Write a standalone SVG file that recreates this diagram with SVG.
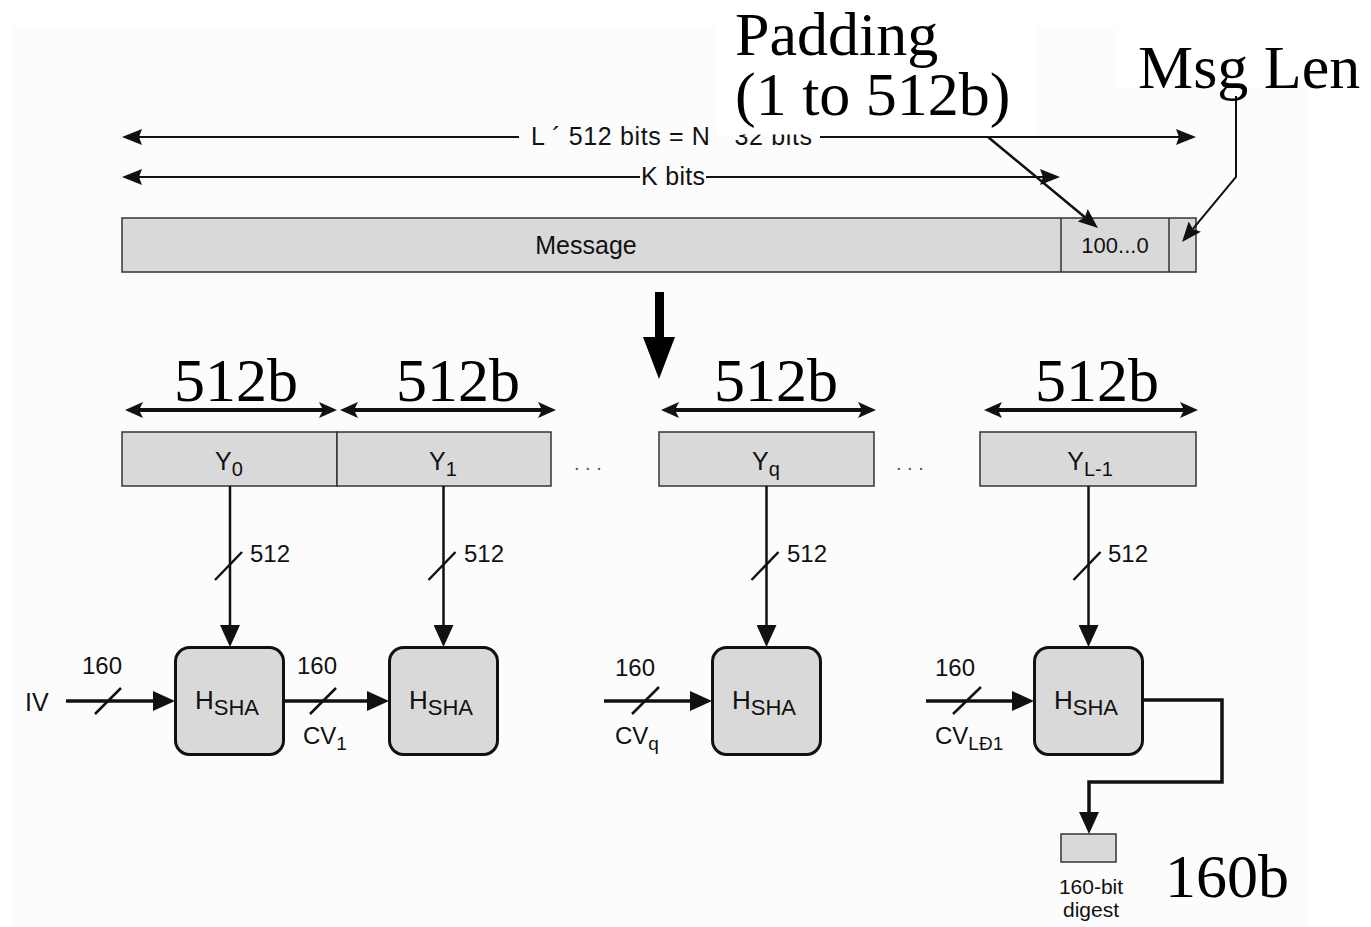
<svg xmlns="http://www.w3.org/2000/svg" width="1371" height="927" viewBox="0 0 1371 927">
<defs>
<style>
.t{font-family:"Liberation Sans",Arial,sans-serif;fill:#111}
.big{font-family:"Liberation Serif","Times New Roman",serif;fill:#000;font-size:62px}
.blk{fill:#d9d9d9;stroke:#333;stroke-width:1.5}
.hb{fill:#d9d9d9;stroke:#111;stroke-width:3}
.ln{fill:none;stroke:#111}
.wh{fill:#fff}
</style>
<marker id="ah" viewBox="0 0 22 20" refX="2" refY="10" markerWidth="22" markerHeight="20" markerUnits="userSpaceOnUse" orient="auto-start-reverse">
<path d="M0,0 L22,10 L0,20 z" fill="#111"/>
</marker>
<marker id="am" viewBox="0 0 18 16" refX="4" refY="8" markerWidth="18" markerHeight="16" markerUnits="userSpaceOnUse" orient="auto-start-reverse">
<path d="M0,0 L18,8 L0,16 L4,8 z" fill="#111"/>
</marker>
<marker id="ahs" viewBox="0 0 20 16" refX="3" refY="8" markerWidth="20" markerHeight="16" markerUnits="userSpaceOnUse" orient="auto-start-reverse">
<path d="M0,0 L20,8 L0,16 L3,8 z" fill="#111"/>
</marker>
</defs>
<rect x="0" y="0" width="1371" height="927" fill="#fff"/>
<rect x="13" y="27" width="1295" height="900" fill="#fcfcfc"/>

<g id="lengths">
<text class="t" x="531" y="145" font-size="25" textLength="281" lengthAdjust="spacing">L ´ 512 bits = N ´ 32 bits</text>
<text class="t" x="641" y="185" font-size="25" textLength="64" lengthAdjust="spacing">K bits</text>
</g>

<g id="message">
<rect class="blk" x="122" y="218" width="1074" height="54"/>
<line x1="1061" y1="218" x2="1061" y2="272" stroke="#333" stroke-width="1.5"/>
<line x1="1169" y1="218" x2="1169" y2="272" stroke="#333" stroke-width="1.5"/>
<text class="t" x="586" y="254" font-size="25" text-anchor="middle">Message</text>
<text class="t" x="1115" y="253" font-size="22" text-anchor="middle">100...0</text>
</g>

<g id="size-labels">
<text class="big" x="236" y="401" text-anchor="middle">512b</text>
<text class="big" x="458" y="401" text-anchor="middle">512b</text>
<text class="big" x="776" y="401" text-anchor="middle">512b</text>
<text class="big" x="1097" y="401" text-anchor="middle">512b</text>
</g>

<g id="Y0">
<rect class="blk" x="122" y="432" width="215" height="54"/>
<text class="t" x="229" y="470" font-size="25" text-anchor="middle">Y<tspan font-size="20" dy="6">0</tspan></text>
</g>
<g id="Y1">
<rect class="blk" x="337" y="432" width="214" height="54"/>
<text class="t" x="443" y="470" font-size="25" text-anchor="middle">Y<tspan font-size="20" dy="6">1</tspan></text>
</g>
<g id="dots1"><text class="t" x="574" y="470" font-size="20" style="fill:#555">. . .</text></g>
<g id="Yq">
<rect class="blk" x="659" y="432" width="215" height="54"/>
<text class="t" x="766" y="470" font-size="25" text-anchor="middle">Y<tspan font-size="20" dy="6">q</tspan></text>
</g>
<g id="dots2"><text class="t" x="896" y="470" font-size="20" style="fill:#555">. . .</text></g>
<g id="YL-1">
<rect class="blk" x="980" y="432" width="216" height="54"/>
<text class="t" x="1090" y="470" font-size="25" text-anchor="middle">Y<tspan font-size="20" dy="6">L-1</tspan></text>
</g>

<g id="bit-labels">
<text class="t" x="250" y="562" font-size="24">512</text>
<text class="t" x="464" y="562" font-size="24">512</text>
<text class="t" x="787" y="562" font-size="24">512</text>
<text class="t" x="1108" y="562" font-size="24">512</text>
<text class="t" x="82" y="674" font-size="24">160</text>
<text class="t" x="297" y="674" font-size="24">160</text>
<text class="t" x="615" y="676" font-size="24">160</text>
<text class="t" x="935" y="676" font-size="24">160</text>
<text class="t" x="25" y="711" font-size="25">IV</text>
<text class="t" x="303" y="744" font-size="24">CV<tspan font-size="19" dy="6">1</tspan></text>
<text class="t" x="615" y="744" font-size="24">CV<tspan font-size="19" dy="6">q</tspan></text>
<text class="t" x="935" y="744" font-size="24">CV<tspan font-size="19" dy="6">LĐ1</tspan></text>
</g>

<g id="H1">
<rect class="hb" x="175.5" y="647.5" width="108" height="107" rx="14"/>
<text class="t" x="227" y="709" font-size="26" text-anchor="middle">H<tspan font-size="22" dy="6">SHA</tspan></text>
</g>
<g id="H2">
<rect class="hb" x="389.5" y="647.5" width="108" height="107" rx="14"/>
<text class="t" x="441" y="709" font-size="26" text-anchor="middle">H<tspan font-size="22" dy="6">SHA</tspan></text>
</g>
<g id="H3">
<rect class="hb" x="712.5" y="647.5" width="108" height="107" rx="14"/>
<text class="t" x="764" y="709" font-size="26" text-anchor="middle">H<tspan font-size="22" dy="6">SHA</tspan></text>
</g>
<g id="H4">
<rect class="hb" x="1034.5" y="647.5" width="108" height="107" rx="14"/>
<text class="t" x="1086" y="709" font-size="26" text-anchor="middle">H<tspan font-size="22" dy="6">SHA</tspan></text>
</g>

<g id="digest">
<rect class="blk" x="1061" y="834" width="55" height="28"/>
<text class="t" x="1091" y="894" font-size="21" text-anchor="middle">160-bit</text>
<text class="t" x="1091" y="917" font-size="21" text-anchor="middle">digest</text>
<text class="big" x="1165" y="897">160b</text>
</g>

<g id="connectors">
<path class="ln" stroke-width="2" d="M519,137 H139" marker-end="url(#ahs)"/>
<path class="ln" stroke-width="2" d="M820,137 H1179" marker-end="url(#ahs)"/>
<path class="ln" stroke-width="2" d="M640,177 H139" marker-end="url(#ahs)"/>
<path class="ln" stroke-width="2" d="M706,177 H1043" marker-end="url(#ahs)"/>
<rect x="655" y="292" width="9" height="47" fill="#000"/>
<polygon points="643,337 675,337 659,379" fill="#000"/>
<path class="ln" stroke-width="4" d="M139,410 H323" marker-start="url(#am)" marker-end="url(#am)"/>
<path class="ln" stroke-width="4" d="M354,410 H542" marker-start="url(#am)" marker-end="url(#am)"/>
<path class="ln" stroke-width="4" d="M675,410 H862" marker-start="url(#am)" marker-end="url(#am)"/>
<path class="ln" stroke-width="4" d="M998,410 H1184" marker-start="url(#am)" marker-end="url(#am)"/>
<path class="ln" stroke-width="2.5" d="M230,486 V627" marker-end="url(#ah)"/>
<path class="ln" stroke-width="2.5" d="M443.5,486 V627" marker-end="url(#ah)"/>
<path class="ln" stroke-width="2.5" d="M766.5,486 V627" marker-end="url(#ah)"/>
<path class="ln" stroke-width="2.5" d="M1088.5,486 V627" marker-end="url(#ah)"/>
<path class="ln" stroke-width="2.5" d="M215,580 L242,552 M428.5,580 L455.5,552 M751.5,580 L778.5,552 M1073.5,580 L1100.5,552"/>
<path class="ln" stroke-width="3.5" d="M66,701 H155" marker-end="url(#ah)"/>
<path class="ln" stroke-width="3.5" d="M284,701 H369" marker-end="url(#ah)"/>
<path class="ln" stroke-width="3.5" d="M604,701 H692" marker-end="url(#ah)"/>
<path class="ln" stroke-width="3.5" d="M926,701 H1014" marker-end="url(#ah)"/>
<path class="ln" stroke-width="2.5" d="M95,714 L121,688 M310,714 L336,688 M632,714 L659,687 M953,714 L981,687"/>
<path class="ln" stroke-width="3.5" d="M1143,700 H1222 V782 H1089 V814" marker-end="url(#ah)"/>
<path class="ln" stroke-width="2.5" d="M988,137 L1084.9,217.2" marker-end="url(#ahs)"/>
<path class="ln" stroke-width="2" d="M1236,96 V177 L1192.9,228.9" marker-end="url(#ahs)"/>
</g>

<g id="padding-label">
<rect class="wh" x="715" y="0" width="321" height="134.5"/>
<text class="big" x="735" y="55">Padding</text>
<text class="big" x="735" y="115">(1 to 512b)</text>
</g>
<g id="msglen-label">
<rect class="wh" x="1117" y="28" width="254" height="60"/>
<text class="big" x="1138" y="88">Msg Len</text>
</g>
</svg>
